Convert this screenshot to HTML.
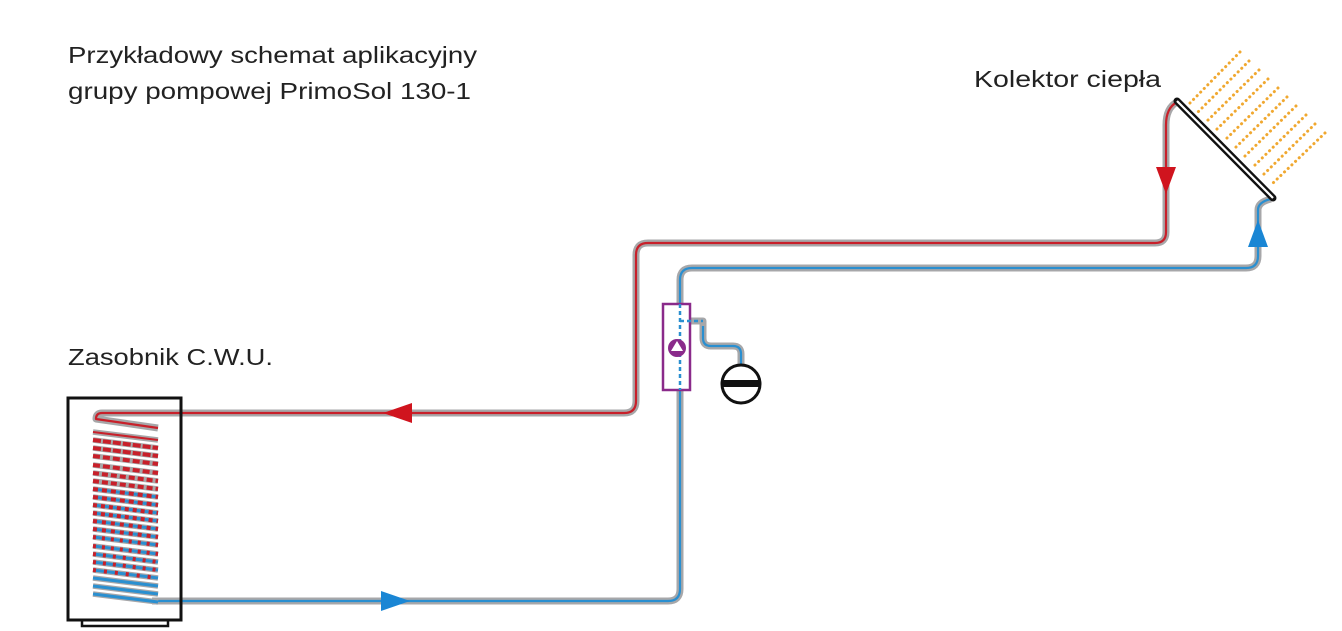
<!DOCTYPE html>
<html><head><meta charset="utf-8"><style>
html,body{margin:0;padding:0;background:#fff;width:1342px;height:631px;overflow:hidden}
svg{display:block}
text{font-family:"Liberation Sans",sans-serif;fill:#222}
</style></head><body>
<svg width="1342" height="631" viewBox="0 0 1342 631" xmlns="http://www.w3.org/2000/svg">
<text x="68" y="63" font-size="23" textLength="409" lengthAdjust="spacingAndGlyphs">Przykładowy schemat aplikacyjny</text>
<text x="68" y="99" font-size="23" textLength="403" lengthAdjust="spacingAndGlyphs">grupy pompowej PrimoSol 130-1</text>
<text x="974" y="87" font-size="23" textLength="187" lengthAdjust="spacingAndGlyphs">Kolektor ciepła</text>
<text x="68" y="365" font-size="23" textLength="205" lengthAdjust="spacingAndGlyphs">Zasobnik C.W.U.</text>

<!-- sun dots -->
<g stroke="#f0a830" stroke-width="3" stroke-linecap="round" stroke-dasharray="0.1 5" fill="none">
<line x1="1240" y1="52" x2="1190" y2="103"/>
<line x1="1249" y1="61" x2="1197" y2="113"/>
<line x1="1259" y1="70" x2="1205" y2="123"/>
<line x1="1268" y1="79" x2="1214" y2="132"/>
<line x1="1278" y1="88" x2="1224" y2="141"/>
<line x1="1287" y1="97" x2="1233" y2="150"/>
<line x1="1296" y1="106" x2="1242" y2="159"/>
<line x1="1306" y1="115" x2="1252" y2="168"/>
<line x1="1315" y1="124" x2="1262" y2="176"/>
<line x1="1325" y1="133" x2="1272" y2="184"/>
</g>

<!-- pipes gray -->
<g fill="none" stroke="#a7a7a9" stroke-width="7" stroke-linejoin="round">
<path d="M1177 102 Q1166 108 1166 125 L1166 232 Q1166 243 1155 243 L648 243 Q636 243 636 255 L636 401 Q636 413 624 413 L102 413 Q96 413 96 419 L158 428"/>
<path d="M152 601 L668 601 Q680 601 680 589 L680 280 Q680 268 692 268 L1246 268 Q1258 268 1258 256 L1258 210 Q1258 202 1271 199"/>
<path d="M690 321 L703 321 L703 338 Q703 346 711 346 L733 346 Q741 346 741 354 L741 365"/>
</g>
<g fill="none" stroke-width="2.2" stroke-linejoin="round">
<path stroke="#c8202a" d="M1177 102 Q1166 108 1166 125 L1166 232 Q1166 243 1155 243 L648 243 Q636 243 636 255 L636 401 Q636 413 624 413 L102 413 Q96 413 96 419 L158 428"/>
<path stroke="#2a8fd0" d="M152 601 L668 601 Q680 601 680 589 L680 280 Q680 268 692 268 L1246 268 Q1258 268 1258 256 L1258 210 Q1258 202 1271 199"/>
<path stroke="#2a8fd0" d="M703 326 L703 338 Q703 346 711 346 L733 346 Q741 346 741 354 L741 365"/>
</g>

<!-- tank -->
<rect x="68" y="398" width="113" height="222" fill="none" stroke="#111" stroke-width="3"/>
<rect x="82" y="620" width="86" height="6" fill="none" stroke="#111" stroke-width="2.5"/>
<g stroke="#a7a7a9" stroke-width="5.5">
<line x1="93" y1="432" x2="158" y2="440"/><line x1="93" y1="440" x2="158" y2="448"/>
<line x1="93" y1="448" x2="158" y2="456"/><line x1="93" y1="456" x2="158" y2="464"/>
<line x1="93" y1="465" x2="158" y2="473"/><line x1="93" y1="473" x2="158" y2="481"/>
<line x1="93" y1="481" x2="158" y2="489"/><line x1="93" y1="489" x2="158" y2="497"/>
<line x1="93" y1="497" x2="158" y2="505"/><line x1="93" y1="505" x2="158" y2="513"/>
<line x1="93" y1="513" x2="158" y2="521"/><line x1="93" y1="521" x2="158" y2="529"/>
<line x1="93" y1="529" x2="158" y2="537"/><line x1="93" y1="537" x2="158" y2="545"/>
<line x1="93" y1="546" x2="158" y2="554"/><line x1="93" y1="554" x2="158" y2="562"/>
<line x1="93" y1="562" x2="158" y2="570"/><line x1="93" y1="570" x2="158" y2="578"/>
<line x1="93" y1="578" x2="158" y2="586"/><line x1="93" y1="586" x2="158" y2="594"/>
<line x1="93" y1="594" x2="158" y2="602"/>
</g>
<g stroke="#2a8fd0" stroke-width="3">
<line x1="93" y1="489" x2="158" y2="497"/><line x1="93" y1="497" x2="158" y2="505"/>
<line x1="93" y1="505" x2="158" y2="513"/><line x1="93" y1="513" x2="158" y2="521"/>
<line x1="93" y1="521" x2="158" y2="529"/><line x1="93" y1="529" x2="158" y2="537"/>
<line x1="93" y1="537" x2="158" y2="545"/><line x1="93" y1="546" x2="158" y2="554"/>
<line x1="93" y1="554" x2="158" y2="562"/><line x1="93" y1="562" x2="158" y2="570"/>
<line x1="93" y1="570" x2="158" y2="578"/><line x1="93" y1="578" x2="158" y2="586"/>
<line x1="93" y1="586" x2="158" y2="594"/><line x1="93" y1="594" x2="158" y2="602"/>
</g>
<g stroke="#c8202a" stroke-width="4">
<line x1="93" y1="432" x2="158" y2="440" stroke-width="2"/>
<line x1="93" y1="440" x2="158" y2="448" stroke-dasharray="8 2"/><line x1="93" y1="448" x2="158" y2="456" stroke-dasharray="8 2"/>
<line x1="93" y1="456" x2="158" y2="464" stroke-dasharray="7 3"/><line x1="93" y1="465" x2="158" y2="473" stroke-dasharray="7 3"/>
<line x1="93" y1="473" x2="158" y2="481" stroke-dasharray="6 3"/><line x1="93" y1="481" x2="158" y2="489" stroke-dasharray="6 3"/>
<line x1="93" y1="489" x2="158" y2="497" stroke-dasharray="5 4"/><line x1="93" y1="497" x2="158" y2="505" stroke-dasharray="5 4"/>
<line x1="93" y1="505" x2="158" y2="513" stroke-dasharray="4 4"/><line x1="93" y1="513" x2="158" y2="521" stroke-dasharray="4 4"/>
<line x1="93" y1="521" x2="158" y2="529" stroke-dasharray="4 5"/><line x1="93" y1="529" x2="158" y2="537" stroke-dasharray="4 5"/>
<line x1="93" y1="537" x2="158" y2="545" stroke-dasharray="3 6"/><line x1="93" y1="546" x2="158" y2="554" stroke-dasharray="3 6"/>
<line x1="93" y1="554" x2="158" y2="562" stroke-dasharray="3 7"/><line x1="93" y1="562" x2="158" y2="570" stroke-dasharray="3 7"/>
<line x1="93" y1="570" x2="158" y2="578" stroke-dasharray="3 8"/>
</g>

<!-- collector -->
<line x1="1177" y1="101" x2="1273" y2="198" stroke="#111" stroke-width="7" stroke-linecap="round"/>
<line x1="1177" y1="101" x2="1273" y2="198" stroke="#fff" stroke-width="2.2"/>

<!-- pump group -->
<rect x="663" y="304" width="27" height="86" fill="#fff" stroke="#8a2a8a" stroke-width="2.5"/>
<line x1="680" y1="304" x2="680" y2="390" stroke="#2a8fd0" stroke-width="2.5" stroke-dasharray="4 3"/>
<line x1="680" y1="321" x2="703" y2="321" stroke="#2a8fd0" stroke-width="2.5" stroke-dasharray="4 3"/>
<circle cx="677" cy="348" r="9" fill="#8a2a8a"/>
<polygon points="677,341 683,351 671,351" fill="#fff"/>
<circle cx="741" cy="384" r="19" fill="#fff" stroke="#111" stroke-width="3"/>
<rect x="722" y="380" width="38" height="7" fill="#111"/>

<!-- arrows -->
<polygon points="383,413 412,403 412,423" fill="#d0141e"/>
<polygon points="1166,194 1156,167 1176,167" fill="#d0141e"/>
<polygon points="410,601 381,591 381,611" fill="#1a86d4"/>
<polygon points="1258,220 1248,247 1268,247" fill="#1a86d4"/>
</svg>
</body></html>
